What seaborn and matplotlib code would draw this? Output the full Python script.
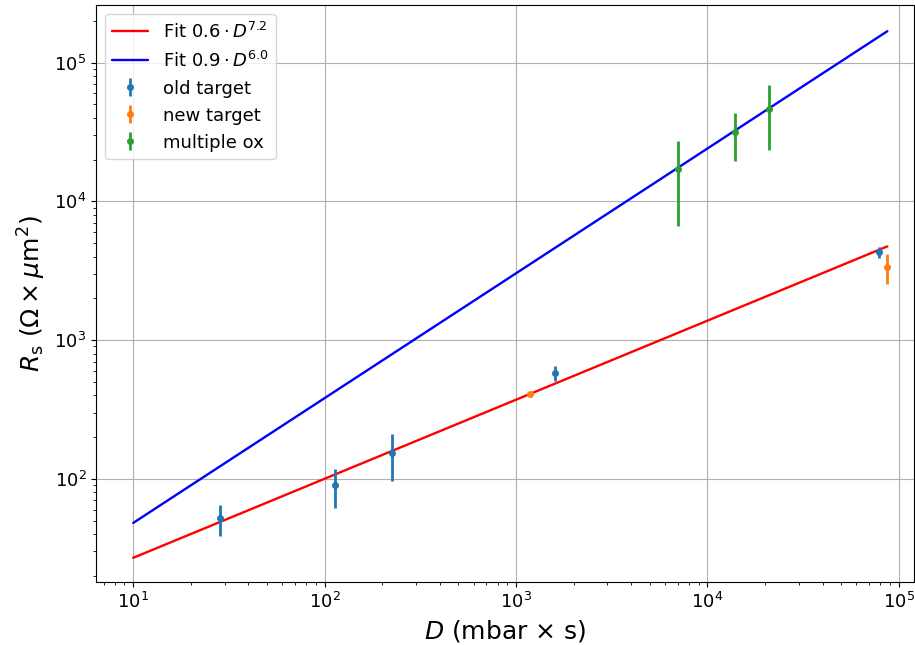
import numpy as np
import pandas as pd
import seaborn as sns
import matplotlib.pyplot as plt

# measured points (dose D in mbar*s, sheet resistance R_s)
old_D = [28.4, 113, 226, 1600, 78700]
old_R = [52, 90, 154, 580, 4290]
old_err = [13, 28, 58, 70, 400]

new_D = [1183, 86600]
new_R = [408, 3350]
new_err = [8, 800]

multi_D = [6990, 13990, 21040]
multi_R = [17070, 31600, 46400]
multi_err = [10400, 12000, 23000]

# power law fits R = a * D^b
fit_D = [10, 87000]
red_a, red_b = 7.25, 0.57
blue_a, blue_b = 6.05, 0.9
red_label = r"Fit $0.6 \cdot D^{7.2}$"
blue_label = r"Fit $0.9 \cdot D^{6.0}$"

sns.set_style("ticks")
plt.rcParams['font.family'] = ['DejaVu Sans']
plt.rcParams['text.color'] = 'black'
plt.rcParams['axes.labelcolor'] = 'black'
plt.rcParams['xtick.color'] = 'black'
plt.rcParams['ytick.color'] = 'black'

fit_x = np.array(fit_D, dtype=float)
fits = pd.DataFrame({
    "D": np.concatenate([fit_x, fit_x]),
    "R": np.concatenate([red_a * fit_x**red_b, blue_a * fit_x**blue_b]),
    "fit": [red_label] * 2 + [blue_label] * 2,
})

fig, ax = plt.subplots(figsize=(9.15, 6.45), dpi=100)
sns.lineplot(data=fits, x="D", y="R", hue="fit", palette=["red", "blue"],
             linewidth=1.7, ax=ax)

eb = dict(fmt='.', markersize=8, elinewidth=2)
ax.errorbar(old_D, old_R, yerr=old_err, color='tab:blue', label='old target', **eb)
ax.errorbar(new_D, new_R, yerr=new_err, color='tab:orange', label='new target', **eb)
ax.errorbar(multi_D, multi_R, yerr=multi_err, color='tab:green', label='multiple ox', **eb)

ax.set_xscale('log')
ax.set_yscale('log')
ax.set_xlim(6.4, 1.2e5)
ax.set_ylim(17.9, 2.6e5)
ax.grid(True, which='major', color='#b0b0b0', linewidth=0.8)
ax.set_xlabel(r"$D$ (mbar $\times$ s)", fontsize=18)
ax.set_ylabel(r"$R_\mathrm{s}$ ($\Omega \times \mu\mathrm{m}^2$)", fontsize=18)
ax.tick_params(axis='both', which='major', labelsize=13)
for s in ax.spines.values():
    s.set_color('black')

handles, labels = ax.get_legend_handles_labels()
ax.legend(handles, labels, loc='upper left', fontsize=13, title=None)

fig.subplots_adjust(left=0.105, right=0.999, top=0.992, bottom=0.097)
plt.savefig("out.png", dpi=100)
